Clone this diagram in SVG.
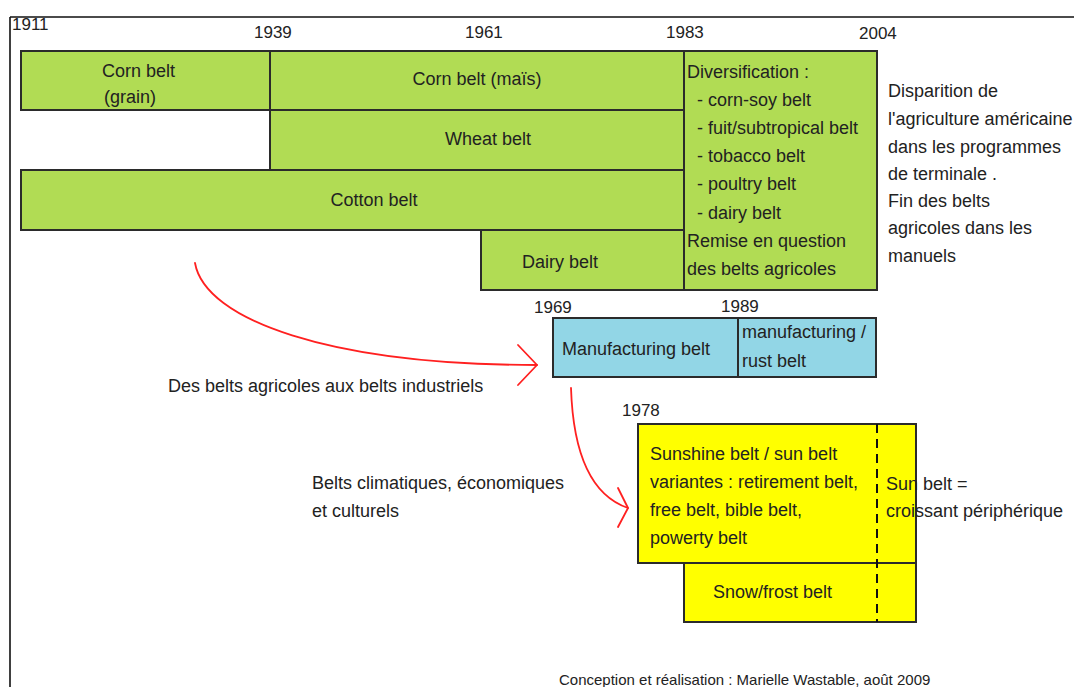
<svg xmlns="http://www.w3.org/2000/svg" width="1074" height="687" viewBox="0 0 1074 687">
<style>
text{font-family:"Liberation Sans",Arial,sans-serif;font-size:18px;fill:#222}
.yr{font-size:17px}
.ft{font-size:15px}
.g{fill:#b1dc54;stroke:#2b2b2b;stroke-width:2}
.b{fill:#92d6e6;stroke:#2b2b2b;stroke-width:2}
.y{fill:#ffff00;stroke:#2b2b2b;stroke-width:2}
.c{fill:none;stroke:#ff2020;stroke-width:1.8;stroke-linecap:round;stroke-linejoin:round}
.m{text-anchor:middle}
</style>
<rect width="1074" height="687" fill="#fff"/>
<path d="M10,17 H1074 M10,17 V687" fill="none" stroke="#111" stroke-width="1.6"/>
<g id="years">
<text class="yr" x="12" y="30">1911</text>
<text class="yr" x="254" y="38">1939</text>
<text class="yr" x="465" y="38">1961</text>
<text class="yr" x="666" y="38">1983</text>
<text class="yr" x="859" y="39">2004</text>
</g>
<g id="corn-grain"><rect class="g" x="21" y="51" width="249" height="59"/><text x="102" y="77">Corn belt</text><text x="104" y="103">(grain)</text></g>
<g id="corn-mais"><rect class="g" x="270" y="51" width="414" height="59"/><text class="m" x="477" y="85">Corn belt (maïs)</text></g>
<g id="wheat"><rect class="g" x="270" y="110" width="414" height="60"/><text class="m" x="488" y="145">Wheat belt</text></g>
<g id="cotton"><rect class="g" x="21" y="170" width="663" height="60"/><text class="m" x="374" y="206">Cotton belt</text></g>
<g id="dairy"><rect class="g" x="481" y="230" width="203" height="60"/><text class="m" x="560" y="268">Dairy belt</text></g>
<g id="diversification"><rect class="g" x="684" y="51" width="193" height="239"/>
<text x="687" y="78">Diversification :</text>
<text x="697" y="106">- corn-soy belt</text>
<text x="697" y="134">- fuit/subtropical belt</text>
<text x="697" y="162">- tobacco belt</text>
<text x="697" y="190">- poultry belt</text>
<text x="697" y="219">- dairy belt</text>
<text x="687" y="247">Remise en question</text>
<text x="687" y="275">des belts agricoles</text>
</g>
<g id="note-right">
<text x="888" y="97">Disparition de</text>
<text x="888" y="125">l'agriculture américaine</text>
<text x="888" y="153">dans les programmes</text>
<text x="888" y="180">de terminale .</text>
<text x="888" y="207">Fin des belts</text>
<text x="888" y="234">agricoles dans les</text>
<text x="888" y="262">manuels</text>
</g>
<g id="manufacturing">
<text class="yr" x="534" y="313">1969</text>
<text class="yr" x="721" y="312">1989</text>
<rect class="b" x="553" y="318" width="185" height="59"/>
<rect class="b" x="738" y="318" width="138" height="59"/>
<text x="562" y="355">Manufacturing belt</text>
<text x="742" y="338">manufacturing /</text>
<text x="742" y="367">rust belt</text>
</g>
<g id="sunbelt">
<text class="yr" x="622" y="416">1978</text>
<rect class="y" x="638" y="424" width="278" height="139"/>
<rect class="y" x="684" y="563" width="232" height="59"/>
<line x1="877" y1="424" x2="877" y2="622" stroke="#111" stroke-width="2" stroke-dasharray="9,6"/>
<text x="650" y="460">Sunshine belt / sun belt</text>
<text x="650" y="488">variantes : retirement belt,</text>
<text x="650" y="516">free belt, bible belt,</text>
<text x="650" y="544">powerty belt</text>
<text x="713" y="598">Snow/frost belt</text>
<text x="886" y="490">Sun belt =</text>
<text x="886" y="517">croissant périphérique</text>
</g>
<g id="labels">
<text x="168" y="392">Des belts agricoles aux belts industriels</text>
<text x="312" y="489">Belts climatiques, économiques</text>
<text x="312" y="517">et culturels</text>
<text class="ft" x="559" y="685">Conception et réalisation : Marielle Wastable, août 2009</text>
</g>
<g id="connectors">
<path class="c" d="M195,263 C205,320 330,365 537,365"/>
<path class="c" d="M518,345 L537,365 L518,385"/>
<path class="c" d="M571,388 C573,450 590,495 628,508"/>
<path class="c" d="M618,488 L628,508 L618,527"/>
</g>
</svg>
